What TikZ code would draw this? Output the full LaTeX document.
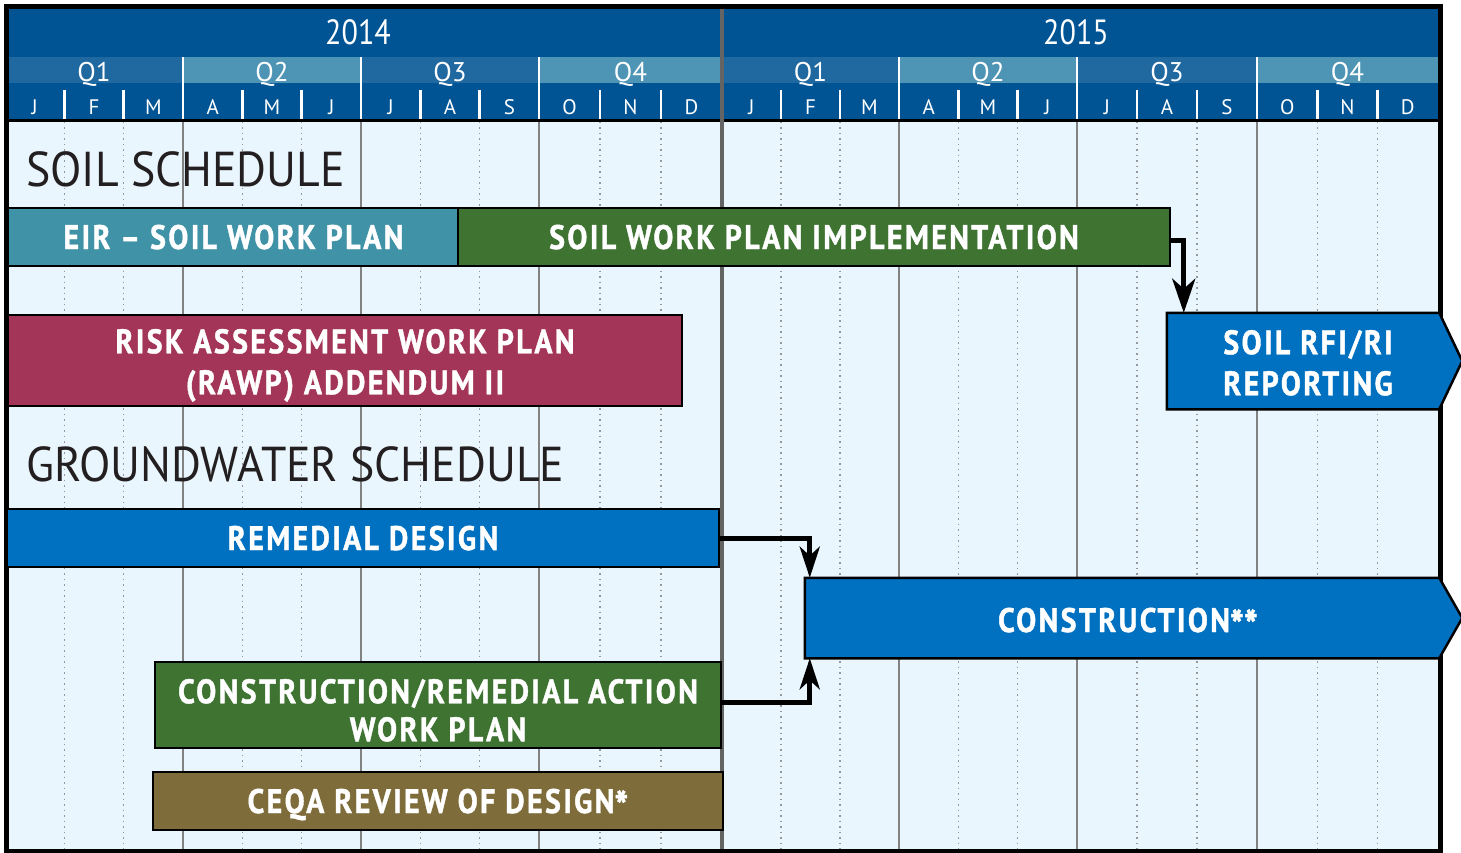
\documentclass[tikz,border=0pt]{standalone}
\usepackage{fontspec}
\setmainfont{PT Sans}
\newfontfamily\barfont[FakeStretch=0.88,LetterSpace=7,FakeBold=1.2]{PT Sans}
\newfontfamily\condfont[FakeStretch=0.86]{PT Sans}
\newfontfamily\ttlfont[FakeStretch=0.935]{PT Sans}
\newcommand{\bigast}{\raisebox{-8pt}{\fontsize{42}{41}\selectfont *}}
\usetikzlibrary{arrows.meta}
\definecolor{hdr}{RGB}{0,84,148}
\definecolor{qdark}{RGB}{32,104,160}
\definecolor{qlight}{RGB}{78,148,181}
\definecolor{paleblue}{RGB}{233,246,254}
\definecolor{gridgray}{RGB}{150,150,155}
\definecolor{qgray}{RGB}{130,130,130}
\definecolor{yeargray}{RGB}{100,100,100}
\definecolor{tealbar}{RGB}{64,146,166}
\definecolor{greenbar}{RGB}{62,115,50}
\definecolor{crimbar}{RGB}{163,54,88}
\definecolor{bluebar}{RGB}{0,112,192}
\definecolor{olivebar}{RGB}{126,108,58}
\definecolor{titlecol}{RGB}{35,31,32}
\pgfdeclarelayer{bg}
\pgfdeclarelayer{mid}
\pgfsetlayers{bg,mid,main}
\begin{document}
\begin{tikzpicture}[x=1pt,y=-1pt,
  bar/.style={draw=black,line width=2.5pt,inner sep=0pt,text=white,align=center,
    font=\barfont\bfseries\fontsize{34}{41}\selectfont},
  one/.style={text height=24pt,text depth=0pt},
  title/.style={anchor=base west,inner sep=0pt,text=titlecol,font=\ttlfont\fontsize{49}{49}\selectfont},
  hdrtext/.style={anchor=base,inner sep=0pt,text=white},
  qtext/.style={hdrtext,font=\fontsize{27}{27}\selectfont},
  mtext/.style={hdrtext,font=\fontsize{21}{21}\selectfont},
  flow/.style={line width=5pt,-{Stealth[length=31pt,width=20pt,inset=9pt]},line join=miter},
  dotgrid/.style={gridgray,line width=1.2pt,dash pattern=on 1.5pt off 4pt},
  qgrid/.style={qgray,line width=1.5pt},
]
\useasboundingbox (0,0) rectangle (1461,853);
\begin{pgfonlayer}{bg}
\fill[white] (0,0) rectangle (1461,853);
\fill[paleblue] (9,122) rectangle (1438,849);
\fill[hdr] (9,9) rectangle (1438,119);
\foreach \a/\b/\ma/\mb/\mc [count=\i from 0] in
  {5/183/J/F/M,183/361/A/M/J,361/539/J/A/S,539/722/O/N/D,
   722/899/J/F/M,899/1077/A/M/J,1077/1257/J/A/S,1257/1438/O/N/D}{
  \pgfmathtruncatemacro\qn{mod(\i,4)+1}
  \pgfmathsetmacro\w{(\b-\a)/3}
  \ifodd\i \def\qc{qlight}\else \def\qc{qdark}\fi
  \fill[\qc] (\a,57) rectangle (\b,83);
  \node[qtext] (q\i) at ({(\a+\b)/2},81.5) {Q\qn};
  \node[mtext] (m\i a) at ({\a+\w/2},115) {\ma};
  \node[mtext] (m\i b) at ({\a+1.5*\w},115) {\mb};
  \node[mtext] (m\i c) at ({\a+2.5*\w},115) {\mc};
  \draw[white,line width=2.5pt] ({\a+\w},90) -- ({\a+\w},119) ({\a+2*\w},90) -- ({\a+2*\w},119);
  \draw[dotgrid] ({\a+\w},122) -- ({\a+\w},849) ({\a+2*\w},122) -- ({\a+2*\w},849);
}
\foreach \x in {183,361,539,899,1077,1257}{
  \draw[white,line width=2.5pt] (\x,57) -- (\x,119);
  \draw[qgrid] (\x,122) -- (\x,849);
}
\node[hdrtext,font=\condfont\fontsize{35}{35}\selectfont] (y2014) at (358,45) {2014};
\node[hdrtext,font=\condfont\fontsize{35}{35}\selectfont] (y2015) at (1076,45) {2015};
\draw[black,line width=3.5pt] (9,120.5) -- (1438,120.5);
\draw[yeargray,line width=3.5pt] (722,9) -- (722,849);
\draw[black,line width=5pt] (6,6.5) rectangle (1440.5,851);
\end{pgfonlayer}

\node[title] (soilt) at (26,186) {SOIL SCHEDULE};
\node[title] (gwt) at (26,481) {GROUNDWATER SCHEDULE};

\node[bar,one,fill=tealbar,minimum width=451pt,minimum height=58pt] (eir) at (233.5,237) {EIR \textendash{} SOIL WORK PLAN};
\node[bar,one,fill=greenbar,minimum width=712pt,minimum height=58pt] (swpi) at (814,237) {SOIL WORK PLAN IMPLEMENTATION};
\node[bar,fill=crimbar,minimum width=674pt,minimum height=91pt] (risk) at (345,360.5) {\rule{0pt}{34pt}RISK ASSESSMENT WORK PLAN\\(RAWP) ADDENDUM II};
\node[bar,draw=none,minimum width=280pt,minimum height=94pt] (rfi) at (1308,361) {\rule{0pt}{28pt}SOIL RFI/RI\\REPORTING};
\node[bar,one,fill=bluebar,minimum width=712pt,minimum height=58pt] (rd) at (363,538) {REMEDIAL DESIGN};
\node[bar,one,draw=none,minimum width=644pt,minimum height=78pt,yshift=-2pt] (cons) at (1128,618) {CONSTRUCTION\bigast\bigast};
\node[bar,fill=greenbar,minimum width=566pt,minimum height=86pt,font=\barfont\bfseries\fontsize{34}{38}\selectfont] (crw) at (438,705) {\rule{0pt}{35pt}CONSTRUCTION/REMEDIAL ACTION\\WORK PLAN};
\node[bar,one,fill=olivebar,minimum width=570pt,minimum height=58pt] (ceqa) at (438,801) {CEQA REVIEW OF DESIGN\bigast};

\begin{pgfonlayer}{mid}
\draw[fill=bluebar,line width=2.5pt,line join=miter] (rfi.north west) -- ([xshift=-10pt]rfi.north east)
  -- ([xshift=13pt]rfi.east) -- ([xshift=-10pt]rfi.south east) -- (rfi.south west) -- cycle;
\draw[fill=bluebar,line width=2.5pt,line join=miter] ([yshift=2pt]cons.north west) -- ([xshift=-12pt,yshift=2pt]cons.north east)
  -- ([xshift=11pt,yshift=2pt]cons.east) -- ([xshift=-12pt,yshift=2pt]cons.south east) -- ([yshift=2pt]cons.south west) -- cycle;
\end{pgfonlayer}

\draw[flow,-{Stealth[length=34pt,width=23pt,inset=10pt]}] ([yshift=-3pt]swpi.east) -| ([xshift=17pt]rfi.north west);
\draw[flow] (rd.east) -| ([xshift=5pt,yshift=2pt]cons.north west);
\draw[flow] ([yshift=3pt]crw.east) -| ([xshift=5pt,yshift=2pt]cons.south west);
\end{tikzpicture}
\end{document}
